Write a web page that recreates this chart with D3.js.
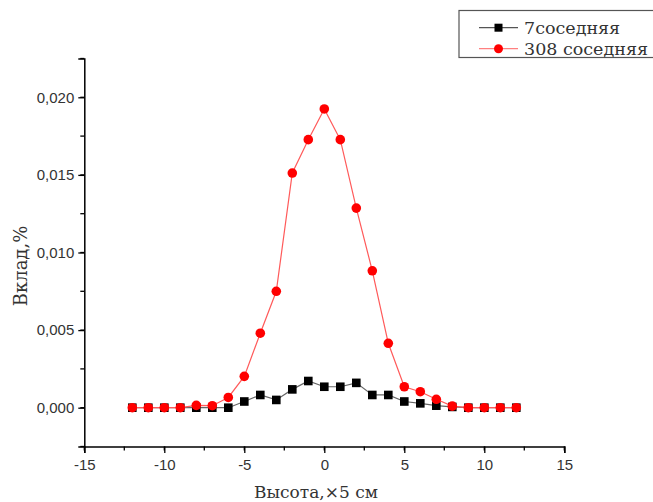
<!doctype html>
<html>
  <head>
    <meta charset="utf-8">
    <title>Вклад</title>
    <script src="https://d3js.org/d3.v7.min.js"></script>
    <style type="text/css">
      body { margin: 0; background-color: #ffffff; }
      svg { display: block; }
    </style>
  </head>
  <body>
    <script>
      // data
      var heights = [-12, -11, -10, -9, -8, -7, -6, -5, -4, -3, -2, -1, 0, 1, 2, 3, 4, 5, 6, 7, 8, 9, 10, 11, 12];
      var near7 = [0, 0, 0, 0, 0, 0, 0, 0.0004, 0.00082, 0.0005, 0.00118, 0.00172, 0.00135, 0.00135, 0.0016,
                   0.00082, 0.00082, 0.0004, 0.00028, 0.00013, 0.00005, 0, 0, 0, 0];
      var near308 = [0, 0, 0, 0, 0.00015, 0.00013, 0.00066, 0.00202, 0.0048, 0.0075, 0.01512, 0.01727, 0.01925, 0.01727, 0.01286,
                     0.00882, 0.00415, 0.00135, 0.00103, 0.00054, 0.0001, 0, 0, 0, 0];
      var xTicks = [-15, -10, -5, 0, 5, 10, 15];
      var yTicks = [0, 0.005, 0.010, 0.015, 0.020];
      var seriesNames = ["7соседняя", "308 соседняя"];

      var w = 653, h = 502;

      var x = d3.scaleLinear().domain([-15, 15]).range([84.3, 564.3]);
      var y = d3.scaleLinear().domain([-0.0025, 0.0225]).range([446.5, 58.5]);

      var svg = d3.select("body").append("svg")
        .attr("width", w)
        .attr("height", h);

      // minor ticks
      var xMinor = d3.range(-15, 15.01, 2.5);
      var yMinor = d3.range(-0.0025, 0.02251, 0.0025);

      svg.append("g").selectAll("line")
        .data(xMinor).enter().append("line")
        .attr("x1", d => x(d)).attr("x2", d => x(d))
        .attr("y1", y(-0.0025)).attr("y2", y(-0.0025) + 4)
        .style("stroke", "#000").style("stroke-width", 1.3);

      svg.append("g").selectAll("line")
        .data(yMinor).enter().append("line")
        .attr("y1", d => y(d)).attr("y2", d => y(d))
        .attr("x1", x(-15)).attr("x2", x(-15) - 4)
        .style("stroke", "#000").style("stroke-width", 1.3);

      // axes
      var xAxis = d3.axisBottom(x).tickValues(xTicks).tickSize(6.5).tickPadding(6)
        .tickFormat(d => String(d));
      var yAxis = d3.axisLeft(y).tickValues(yTicks).tickSize(6).tickPadding(4)
        .tickFormat(d => d3.format(".3f")(d).replace(".", ","));

      var gx = svg.append("g")
        .attr("transform", "translate(0," + y(-0.0025) + ")")
        .call(xAxis);
      var gy = svg.append("g")
        .attr("transform", "translate(" + x(-15) + ",0)")
        .call(yAxis);

      [gx, gy].forEach(function(g) {
        g.select(".domain").style("stroke", "#000").style("stroke-width", 1.5);
        g.selectAll(".tick line").style("stroke", "#000").style("stroke-width", 1.3);
        g.selectAll("text")
          .style("font-family", "'Liberation Sans', Arial, sans-serif")
          .style("font-size", "15px")
          .style("fill", "#333");
      });

      // axis titles
      svg.append("text")
        .attr("transform", "translate(27,266) rotate(-90)")
        .attr("text-anchor", "middle")
        .style("font-family", "'DejaVu Serif', serif")
        .style("font-size", "18px")
        .style("fill", "#333")
        .text("Вклад,%");

      svg.append("text")
        .attr("x", 316).attr("y", 498)
        .attr("text-anchor", "middle")
        .style("font-family", "'DejaVu Serif', serif")
        .style("font-size", "17px")
        .style("fill", "#333")
        .text("Высота,×5 см");

      // series
      var line = d3.line()
        .x((d, i) => x(heights[i]))
        .y(d => y(d));

      svg.append("path")
        .datum(near7)
        .attr("d", line)
        .style("fill", "none")
        .style("stroke", "#666")
        .style("stroke-width", 1.2);

      svg.append("g").selectAll("rect")
        .data(near7).enter().append("rect")
        .attr("x", (d, i) => x(heights[i]) - 4.3)
        .attr("y", d => y(d) - 4.3)
        .attr("width", 8.6).attr("height", 8.6)
        .style("fill", "#000");

      svg.append("path")
        .datum(near308)
        .attr("d", line)
        .style("fill", "none")
        .style("stroke", "#ff5a5a")
        .style("stroke-width", 1.2);

      svg.append("g").selectAll("circle")
        .data(near308).enter().append("circle")
        .attr("cx", (d, i) => x(heights[i]))
        .attr("cy", d => y(d))
        .attr("r", 4.8)
        .style("fill", "#ff0000");

      // legend
      var legend = svg.append("g");
      legend.append("rect")
        .attr("x", 459).attr("y", 10.5)
        .attr("width", 220).attr("height", 47)
        .style("fill", "#fff")
        .style("stroke", "#555")
        .style("stroke-width", 1.2);

      var legRows = legend.selectAll("g.row")
        .data(seriesNames).enter().append("g")
        .attr("class", "row")
        .attr("transform", (d, i) => "translate(0," + (27.7 + i * 21) + ")");

      legRows.append("line")
        .attr("x1", 479).attr("x2", 518)
        .style("stroke", (d, i) => i === 0 ? "#555" : "#ff8080")
        .style("stroke-width", 1.2);

      legRows.filter((d, i) => i === 0).append("rect")
        .attr("x", 498.5 - 4).attr("y", -4)
        .attr("width", 8).attr("height", 8)
        .style("fill", "#000");
      legRows.filter((d, i) => i === 1).append("circle")
        .attr("cx", 498.5).attr("cy", 0).attr("r", 4.5)
        .style("fill", "#ff0000");

      legRows.append("text")
        .attr("x", 524).attr("y", 6)
        .style("font-family", "'DejaVu Serif', serif")
        .style("font-size", "17.5px")
        .style("fill", "#333")
        .text(d => d);
    </script>
  </body>
</html>
